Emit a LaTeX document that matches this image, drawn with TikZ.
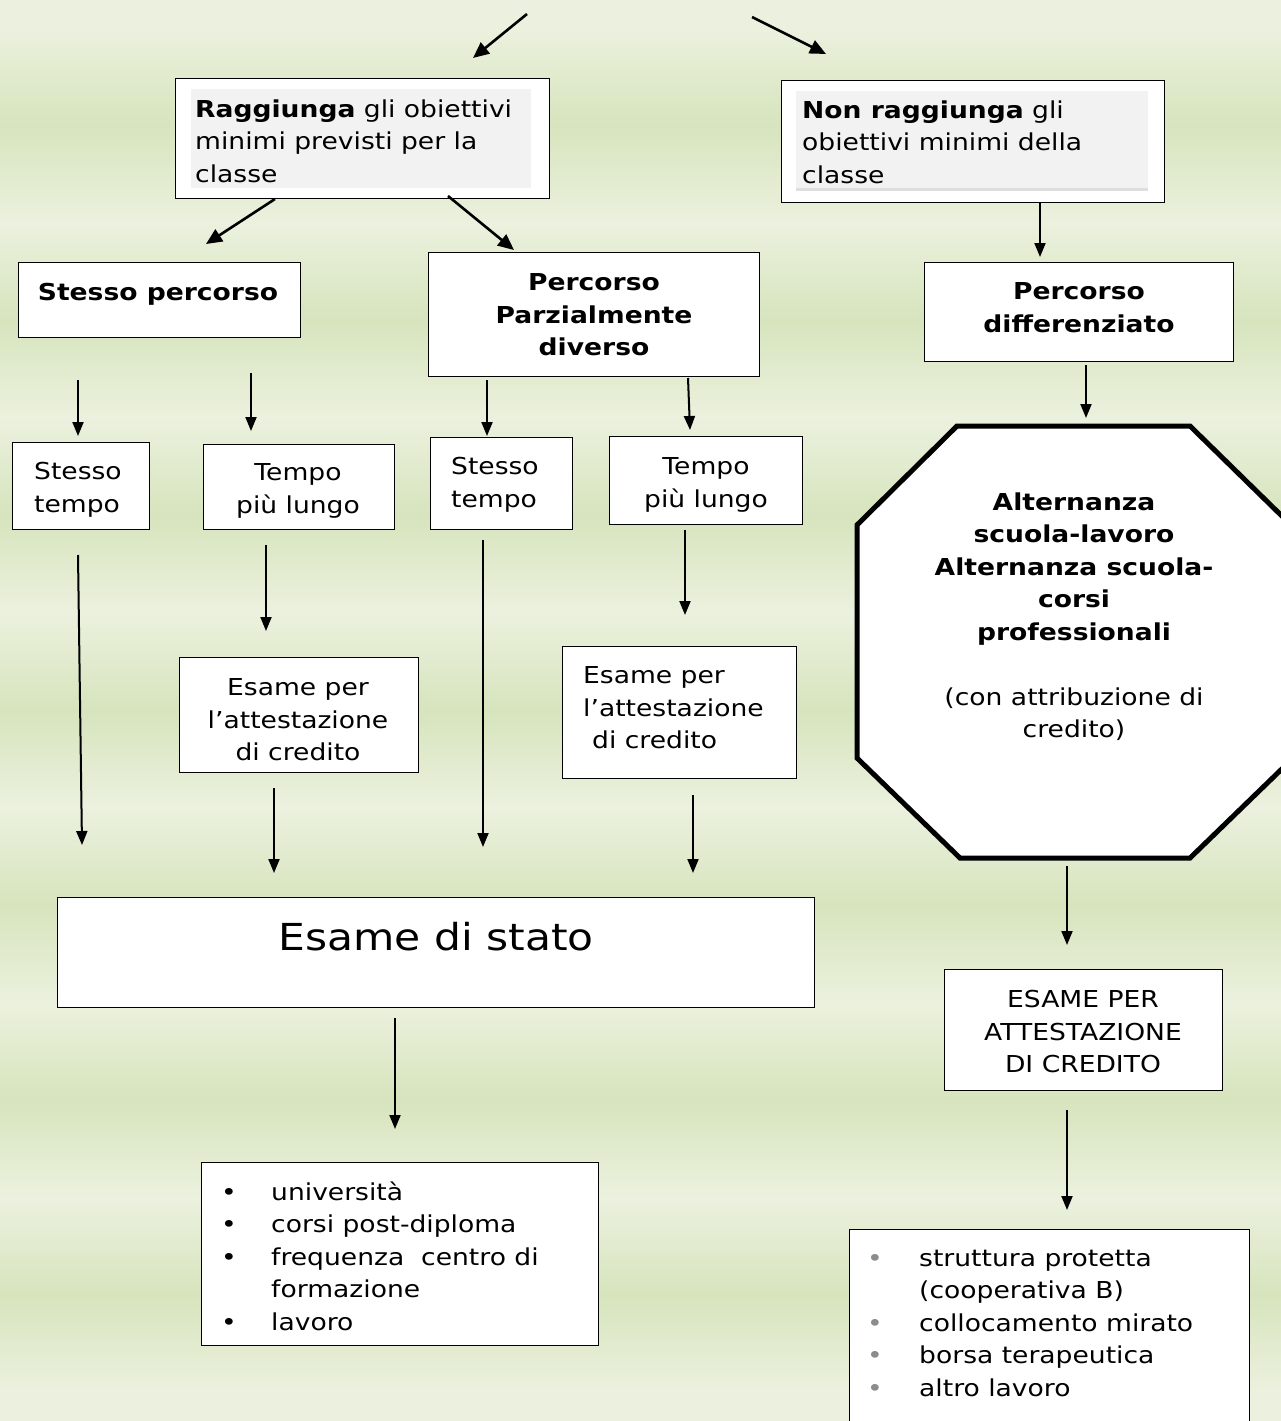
\documentclass[tikz,border=0pt]{standalone}
\usepackage{fontspec}
\setmainfont{DejaVu Sans}[FakeStretch=1.14]
\usetikzlibrary{arrows.meta}

\definecolor{bgl}{HTML}{EBF1DE}
\definecolor{bgd}{HTML}{D7E4BD}
\definecolor{paneg}{HTML}{F2F2F2}
\definecolor{paneline}{HTML}{DEDEDE}
\definecolor{bulgray}{HTML}{8C8C8C}

% bullet of a given colour in a slot of a given width
\newcommand\lbul[2]{\makebox[#2][l]{\textcolor{#1}{•}}}

\begin{document}
\begin{tikzpicture}[x=1pt,y=-1pt,
  box/.style={draw=black,line width=1.4pt,fill=white,inner sep=0pt,anchor=north west},
  pane/.style={fill=paneg,inner sep=0pt,anchor=north west},
  txt/.style={inner sep=0pt,font=\fontsize{23.3}{32.5}\selectfont},
  ttl/.style={txt,font=\fontsize{23.3}{32.5}\selectfont\bfseries,align=center,anchor=north},
  octo/.style={draw=black,fill=white,line width=5pt,line join=miter},
  link/.style={line width=2pt,-{Triangle[length=14pt,width=11pt]}},
  biglink/.style={line width=2.6pt,-{Triangle[length=16pt,width=14pt]}},
]
\useasboundingbox (0,0) rectangle (1281,1421);
\clip (0,0) rectangle (1281,1421);

% striped green background
\fill[bgl] (0,0) rectangle (1281,1421);
\foreach \c in {125,320,515,710,905,1100,1295}{
  \shade[top color=bgl,bottom color=bgd] (0,\c-97) rectangle (1281,\c);
  \shade[top color=bgd,bottom color=bgl] (0,\c) rectangle (1281,\c+97);
}

% ---- upper level
\node[box,minimum width=374pt,minimum height=120pt] (rag) at (175,78) {};
\node[pane,minimum width=340pt,minimum height=99pt] (ragp) at (191,89) {};
\node[txt,anchor=north west,align=left] (ragt) at (195,99.5)
  {\textbf{Raggiunga} gli obiettivi\\minimi previsti per la\\classe};

\node[box,minimum width=383pt,minimum height=122pt] (nrag) at (781,80) {};
\node[pane,minimum width=352pt,minimum height=97pt] (nragp) at (796,91) {};
\node[fill=paneline,inner sep=0pt,anchor=north west,minimum width=352pt,minimum height=3pt] (nragl) at (796,188) {};
\node[txt,anchor=north west,align=left] (nragt) at (802,100.3)
  {\textbf{Non raggiunga} gli\\obiettivi minimi della\\classe};

% ---- paths
\node[box,minimum width=282pt,minimum height=75pt] (sp) at (18,262) {};
\node[ttl] (spt) at (158,282.7) {Stesso percorso};

\node[box,minimum width=331pt,minimum height=124pt] (ppd) at (428,252) {};
\node[ttl] (ppdt) at (594,273.7) {Percorso\\Parzialmente\\diverso};

\node[box,minimum width=309pt,minimum height=99pt] (pdiff) at (924,262) {};
\node[ttl] (pdifft) at (1079,282.7) {Percorso\\differenziato};

% ---- timing
\node[box,minimum width=137pt,minimum height=87pt] (st1) at (12,442) {};
\node[txt,anchor=north west,align=left] (st1t) at (34,462.5) {Stesso\\tempo};

\node[box,minimum width=191pt,minimum height=85pt] (tl1) at (203,444) {};
\node[txt,anchor=north,align=center] (tl1t) at (298,463.5) {Tempo\\più lungo};

\node[box,minimum width=142pt,minimum height=92pt] (st2) at (430,437) {};
\node[txt,anchor=north west,align=left] (st2t) at (451,457.5) {Stesso\\tempo};

\node[box,minimum width=193pt,minimum height=88pt] (tl2) at (609,436) {};
\node[txt,anchor=north,align=center] (tl2t) at (706,457.5) {Tempo\\più lungo};

% ---- differentiated path
\draw[octo] (957,426) -- (1190,426) -- (1289,523) -- (1289,762) -- (1190,858)
  -- (960,858) -- (857,758) -- (857,525) -- cycle;
\node[txt,anchor=north,align=center] (octt) at (1074,492.3)
  {\textbf{Alternanza}\\\textbf{scuola-lavoro}\\\textbf{Alternanza scuola-}\\\textbf{corsi}\\\textbf{professionali}\\[32.5pt]
   (con attribuzione di\\credito)};

% ---- credit exams
\node[box,minimum width=239pt,minimum height=115pt] (esa1) at (179,657) {};
\node[txt,anchor=north,align=center] (esa1t) at (298,678.7) {Esame per\\l’attestazione\\di credito};

\node[box,minimum width=234pt,minimum height=132pt] (esa2) at (562,646) {};
\node[txt,anchor=north west,align=left] (esa2t) at (583,666.7) {Esame per\\l’attestazione\\\hspace*{9pt}di credito};

\node[box,minimum width=757pt,minimum height=110pt] (stato) at (57,897) {};
\node[inner sep=0pt,anchor=north,font=\fontsize{37.2}{44}\selectfont] (statot) at (436,922.2) {Esame di stato};

\node[box,minimum width=278pt,minimum height=121pt] (esacr) at (944,969) {};
\node[txt,anchor=north,align=center] (esacrt) at (1083,990) {ESAME PER\\ATTESTAZIONE\\DI CREDITO};

% ---- outcomes
\node[box,minimum width=397pt,minimum height=183pt] (lst1) at (201,1162) {};
\node[txt,anchor=north west,align=left] (lst1t) at (221,1181.3)
  {\lbul{black}{50pt}università\\
   \lbul{black}{50pt}corsi post-diploma\\
   \lbul{black}{50pt}frequenza~ centro di\\
   \hspace*{50pt}formazione\\
   \lbul{black}{50pt}lavoro};

\node[box,minimum width=400pt,minimum height=200pt] (lst2) at (849,1229) {};
\node[txt,anchor=north west,align=left] (lst2t) at (867,1249.5)
  {\lbul{bulgray}{52pt}struttura protetta\\
   \hspace*{52pt}(cooperativa B)\\
   \lbul{bulgray}{52pt}collocamento mirato\\
   \lbul{bulgray}{52pt}borsa terapeutica\\
   \lbul{bulgray}{52pt}altro lavoro};

% ---- connector end points
\coordinate (a1s) at (527,14);   \coordinate (a1e) at (473,58);
\coordinate (a2s) at (752,17);   \coordinate (a2e) at (826,54);
\coordinate (a3s) at (275,199);  \coordinate (a3e) at (206,244);
\coordinate (a4s) at (448,196);  \coordinate (a4e) at (514,250);
\coordinate (a5s) at (1040,203); \coordinate (a5e) at (1040,257);
\coordinate (a6s) at (78,380);   \coordinate (a6e) at (78,436);
\coordinate (a7s) at (251,373);  \coordinate (a7e) at (251,431);
\coordinate (a8s) at (487,380);  \coordinate (a8e) at (487,436);
\coordinate (a9s) at (688,378);  \coordinate (a9e) at (690,430);
\coordinate (a10s) at (1086,365); \coordinate (a10e) at (1086,418);
\coordinate (a11s) at (78,555);  \coordinate (a11e) at (82,845);
\coordinate (a12s) at (266,545); \coordinate (a12e) at (266,631);
\coordinate (a13s) at (483,540); \coordinate (a13e) at (483,847);
\coordinate (a14s) at (685,530); \coordinate (a14e) at (685,615);
\coordinate (a15s) at (274,788); \coordinate (a15e) at (274,873);
\coordinate (a16s) at (693,795); \coordinate (a16e) at (693,873);
\coordinate (a17s) at (1067,866); \coordinate (a17e) at (1067,945);
\coordinate (a18s) at (395,1018); \coordinate (a18e) at (395,1129);
\coordinate (a19s) at (1067,1110); \coordinate (a19e) at (1067,1210);

\draw[biglink] (a1s) -- (a1e);
\draw[biglink] (a2s) -- (a2e);
\draw[biglink] (a3s) -- (a3e);
\draw[biglink] (a4s) -- (a4e);
\foreach \k in {5,...,19}{ \draw[link] (a\k s) -- (a\k e); }
\end{tikzpicture}
\end{document}
